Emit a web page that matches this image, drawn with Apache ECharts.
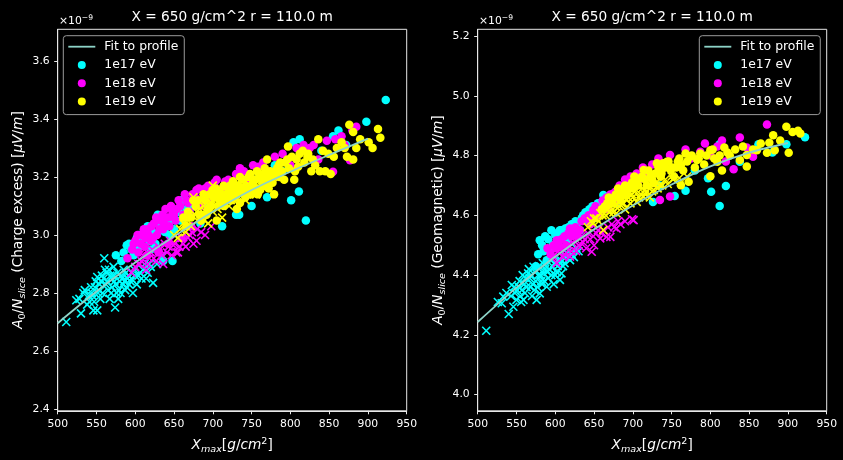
<!DOCTYPE html>
<html>
<head>
<meta charset="utf-8">
<script src="https://cdn.jsdelivr.net/npm/echarts@6/dist/echarts.min.js"></script>
<style>
  html, body { margin: 0; padding: 0; background: #000; }
  #chart { width: 843px; height: 460px; }
</style>
</head>
<body>
<div id="chart"></div>
<script>
// ---- axis ticks ----
const xTicks = [500, 550, 600, 650, 700, 750, 800, 850, 900, 950];
const ceTicks = [2.4, 2.6, 2.8, 3.0, 3.2, 3.4, 3.6];
const geoTicks = [4.0, 4.2, 4.4, 4.6, 4.8, 5.0, 5.2];

const titleText = 'X = 650 g/cm^2 r = 110.0 m';
const energyNames = ['1e17 eV', '1e18 eV', '1e19 eV'];
const fitName = 'Fit to profile';

// ---- fitted profile (values in units of 1e-9 µV/m) ----
const fitXmax = [500, 550, 600, 650, 700, 750, 800, 850, 900];
const ceFit = [2.696, 2.805, 2.905, 2.995, 3.080, 3.155, 3.218, 3.276, 3.332];
const geoFit = [4.243, 4.358, 4.462, 4.553, 4.633, 4.703, 4.764, 4.810, 4.842];

// ---- charge-excess amplitude per slice: [Xmax, A0/Nslice] ----
const ce17 = [[575,2.93],[582,2.91],[585,2.94],[589,2.965],[592,2.97],[595,2.95],[598,2.93],[600,2.95],[602,2.99],[605,3.0],
  [606,2.96],[610,3.0],[612,2.99],[614,3.02],[616,3.03],[618,2.98],[620,2.95],[622,3.01],[624,3.0],[626,2.97],[629,3.07],
  [630,3.04],[633,3.03],[636,2.91],[638,3.01],[640,3.04],[644,3.0],[645,3.05],[648,2.91],[650,3.02],[652,3.05],[656,3.08],
  [658,3.05],[660,3.12],[664,3.06],[666,3.09],[670,3.09],[676,3.1],[684,3.04],[690,3.11],[700,3.14],[712,3.03],[720,3.17],
  [730,3.07],[734,3.07],[750,3.10],[760,3.2],[770,3.13],[780,3.24],[790,3.22],[801,3.12],[804,3.32],[811,3.15],[812,3.33],
  [820,3.05],[840,3.29],[855,3.34],[862,3.36],[872,3.31],[898,3.39],[923,3.465]];
const ce17x = [[511,2.70],[524,2.775],[528,2.78],[530,2.73],[533,2.80],[535,2.81],[538,2.76],[540,2.79],[541,2.77],[543,2.82],
  [544,2.80],[545,2.79],[546,2.74],[547,2.77],[548,2.82],[549,2.84],[551,2.74],[551,2.855],[552,2.80],[553,2.81],[554,2.83],
  [555,2.78],[556,2.84],[557,2.86],[558,2.80],[559,2.85],[560,2.92],[561,2.88],[562,2.83],[563,2.87],[564,2.84],[565,2.81],
  [566,2.88],[567,2.78],[568,2.86],[569,2.80],[570,2.82],[571,2.86],[572,2.89],[573,2.84],[574,2.75],[575,2.83],[576,2.80],
  [577,2.87],[578,2.78],[579,2.81],[580,2.84],[581,2.80],[582,2.86],[583,2.85],[584,2.83],[585,2.88],[586,2.84],[587,2.81],
  [588,2.87],[589,2.82],[590,2.85],[591,2.86],[592,2.83],[594,2.84],[595,2.85],[596,2.87],[597,2.80],[599,2.88],[600,2.86],
  [602,2.83],[604,2.86],[606,2.87],[608,2.85],[610,2.88],[612,2.90],[614,2.85],[616,2.87],[618,2.90],[620,2.89],[623,2.835],
  [628,2.90],[635,2.93]];
const ce18 = [[590,2.92],[596,2.95],[598,2.97],[600,2.98],[603,3.0],[604,2.94],[607,2.97],[608,3.0],[611,3.02],[612,2.96],
  [613,2.99],[615,2.93],[616,3.02],[617,3.0],[620,2.98],[621,3.03],[623,2.99],[624,3.04],[627,3.06],[628,3.0],[630,2.94],
  [631,3.02],[632,3.05],[635,3.07],[636,3.02],[637,3.04],[639,3.09],[640,3.06],[642,2.97],[643,3.06],[644,3.03],[646,3.10],
  [648,3.08],[650,3.07],[652,3.05],[654,3.09],[656,3.12],[658,3.10],[660,2.99],[662,3.07],[664,3.14],[666,3.12],[668,3.11],
  [670,3.08],[672,3.03],[674,3.14],[677,3.13],[679,3.155],[682,3.16],[684,3.10],[688,3.13],[690,3.16],[694,3.17],[696,3.12],
  [699,3.15],[702,3.18],[705,3.19],[708,3.14],[712,3.16],[716,3.184],[720,3.19],[724,3.16],[730,3.21],[735,3.23],[740,3.22],
  [745,3.19],[752,3.24],[759,3.235],[765,3.25],[770,3.21],[780,3.27],[790,3.28],[800,3.24],[808,3.30],[817,3.31],[825,3.30],
  [830,3.31],[836,3.26],[847,3.325],[855,3.218],[858,3.33],[866,3.34],[870,3.31],[877,3.258],[880,3.36],[885,3.373]];
const ce18x = [[595,2.87],[600,2.89],[604,2.90],[606,2.90],[608,2.91],[610,2.93],[612,2.95],[614,2.88],[616,2.90],[618,2.92],
  [620,2.94],[622,2.95],[624,2.92],[627,2.91],[630,2.96],[632,2.95],[634,2.93],[636,2.90],[638,2.97],[641,2.94],[643,2.96],
  [645,2.98],[647,2.93],[649,2.965],[651,2.97],[653,2.94],[655,2.94],[657,2.96],[660,2.99],[662,2.97],[665,2.96],[668,2.99],
  [670,3.0],[673,3.01],[675,2.97],[679,2.98],[680,3.02],[685,3.01],[690,3.0],[698,3.03]];
const ce19 = [[662,3.06],[666,3.03],[668,3.08],[672,3.06],[675,3.12],[678,3.10],[681,3.12],[683,3.07],[685,3.05],[688,3.14],
  [690,3.12],[692,3.07],[694,3.09],[696,3.14],[698,3.10],[700,3.155],[702,3.13],[704,3.16],[705,3.05],[707,3.10],[709,3.15],
  [710,3.12],[712,3.13],[714,3.17],[714,3.10],[716,3.12],[718,3.14],[720,3.15],[722,3.17],[724,3.12],[726,3.185],[727,3.16],
  [728,3.13],[730,3.14],[731,3.09],[733,3.17],[735,3.20],[735,3.11],[737,3.15],[739,3.19],[740,3.16],[742,3.13],[743,3.17],
  [744,3.155],[746,3.20],[748,3.21],[749,3.14],[750,3.17],[752,3.18],[754,3.19],[756,3.16],[757,3.22],[758,3.14],[760,3.21],
  [761,3.155],[763,3.19],[764,3.17],[766,3.21],[767,3.23],[768,3.17],[770,3.26],[771,3.19],[772,3.16],[774,3.22],[775,3.20],
  [777,3.18],[778,3.21],[779,3.14],[781,3.21],[783,3.23],[785,3.24],[786,3.20],[787,3.25],[789,3.22],[792,3.19],[793,3.25],
  [796,3.26],[797,3.305],[798,3.23],[802,3.27],[805,3.19],[806,3.22],[808,3.26],[810,3.235],[812,3.28],[816,3.29],[818,3.25],
  [822,3.27],[823,3.28],[827,3.22],[829,3.26],[832,3.24],[836,3.33],[838,3.22],[842,3.29],[845,3.22],[849,3.28],[852,3.21],
  [856,3.27],[860,3.30],[866,3.32],[870,3.30],[873,3.27],[876,3.38],[881,3.26],[881,3.355],[885,3.30],[890,3.33],[901,3.32],
  [906,3.30],[913,3.365],[916,3.335]];
const ce19x = [[650,3.0],[655,2.99],[658,3.02],[662,3.04],[665,3.01],[668,3.05],[672,3.03],[675,3.13],[677,3.07],[679,3.08],
  [680,3.05],[683,3.09],[684,3.07],[686,3.06],[688,3.10],[689,3.05],[691,3.08],[692,3.11],[694,3.04],[696,3.09],[697,3.11],
  [699,3.12],[700,3.17],[700,3.08],[702,3.10],[703,3.12],[705,3.14],[706,3.09],[708,3.11],[709,3.13],[711,3.15],[712,3.06],
  [714,3.13],[715,3.11],[717,3.12],[718,3.15],[720,3.16],[721,3.10],[723,3.12],[724,3.14],[726,3.15],[727,3.12],[729,3.13],
  [730,3.16],[732,3.18],[734,3.13],[736,3.15],[738,3.17],[740,3.16],[742,3.12],[744,3.14],[746,3.15],[748,3.17],[750,3.18],
  [753,3.16],[756,3.14],[758,3.19],[762,3.17],[770,3.18],[778,3.20]];

// ---- geomagnetic amplitude per slice: [Xmax, A0/Nslice] ----
const geo17 = [[575,4.43],[578,4.47],[580,4.517],[583,4.50],[585,4.48],[587,4.53],[589,4.45],[591,4.52],[593,4.484],[595,4.55],
  [597,4.50],[600,4.534],[602,4.54],[604,4.51],[606,4.55],[608,4.55],[611,4.545],[613,4.556],[616,4.52],[617,4.56],[619,4.539],
  [621,4.57],[623,4.57],[626,4.58],[628,4.573],[632,4.55],[634,4.59],[636,4.60],[639,4.61],[641,4.584],[644,4.62],[646,4.62],
  [648,4.63],[650,4.59],[653,4.60],[655,4.64],[658,4.64],[662,4.668],[668,4.63],[674,4.66],[680,4.64],[690,4.68],[700,4.70],
  [714,4.731],[726,4.645],[735,4.70],[754,4.665],[768,4.682],[780,4.75],[797,4.724],[801,4.679],[812,4.631],[812,4.838],
  [820,4.698],[838,4.779],[862,4.838],[880,4.81],[898,4.838],[922,4.861]];
const geo17x = [[511,4.214],[526,4.31],[531,4.306],[533,4.328],[537,4.34],[540,4.27],[543,4.33],[544,4.367],[546,4.294],
  [547,4.36],[548,4.34],[550,4.317],[551,4.35],[553,4.36],[554,4.38],[555,4.33],[556,4.31],[557,4.35],[558,4.40],[559,4.317],
  [560,4.37],[561,4.34],[562,4.39],[563,4.36],[565,4.406],[566,4.42],[567,4.39],[568,4.36],[569,4.40],[570,4.33],[571,4.37],
  [572,4.428],[573,4.35],[574,4.41],[575,4.38],[576,4.317],[577,4.36],[578,4.40],[579,4.43],[580,4.339],[581,4.40],[582,4.38],
  [583,4.37],[584,4.44],[585,4.406],[586,4.38],[587,4.42],[588,4.43],[589,4.361],[590,4.41],[591,4.39],[592,4.42],[594,4.45],
  [595,4.40],[597,4.428],[598,4.37],[599,4.44],[600,4.40],[602,4.41],[603,4.43],[604,4.45],[606,4.384],[607,4.45],[608,4.406],
  [610,4.43],[612,4.44],[614,4.46],[615,4.473],[617,4.48],[619,4.45],[621,4.47],[624,4.46],[627,4.49],[630,4.48]];
const geo18 = [[590,4.49],[594,4.47],[598,4.50],[600,4.49],[602,4.517],[606,4.495],[608,4.52],[612,4.53],[614,4.50],[617,4.54],
  [619,4.556],[621,4.53],[624,4.54],[626,4.56],[629,4.53],[632,4.551],[634,4.58],[638,4.59],[641,4.59],[643,4.60],[645,4.57],
  [647,4.59],[649,4.618],[652,4.63],[654,4.60],[656,4.60],[658,4.618],[661,4.65],[663,4.64],[666,4.66],[668,4.62],[671,4.67],
  [675,4.673],[678,4.68],[680,4.65],[683,4.70],[686,4.69],[690,4.72],[692,4.709],[692,4.712],[697,4.73],[700,4.70],[705,4.74],
  [708,4.72],[713,4.76],[720,4.735],[725,4.77],[733,4.79],[735,4.651],[740,4.76],[748,4.663],[748,4.802],[760,4.77],[768,4.82],
  [775,4.79],[787,4.813],[793,4.84],[800,4.80],[809,4.83],[815,4.85],[820,4.78],[830,4.754],[838,4.86],[847,4.827],[855,4.796],
  [873,4.904]];
const geo18x = [[597,4.462],[602,4.44],[604,4.48],[606,4.473],[610,4.46],[612,4.47],[615,4.49],[617,4.50],[619,4.462],[621,4.48],
  [623,4.506],[626,4.52],[627,4.48],[630,4.50],[632,4.495],[634,4.53],[636,4.51],[638,4.52],[640,4.49],[642,4.54],[645,4.52],
  [647,4.478],[649,4.53],[650,4.50],[653,4.54],[655,4.55],[658,4.523],[660,4.54],[662,4.55],[666,4.528],[668,4.56],[671,4.528],
  [673,4.57],[676,4.56],[679,4.556],[681,4.58],[684,4.57],[690,4.58],[699,4.587],[701,4.584]];
const geo19 = [[660,4.62],[664,4.63],[667,4.64],[669,4.66],[671,4.64],[674,4.64],[676,4.66],[678,4.67],[681,4.69],[684,4.651],
  [686,4.67],[688,4.685],[690,4.70],[692,4.668],[694,4.69],[697,4.701],[699,4.71],[700,4.69],[702,4.73],[705,4.707],[707,4.70],
  [710,4.724],[712,4.73],[714,4.752],[716,4.72],[718,4.70],[720,4.75],[723,4.735],[725,4.72],[727,4.707],[729,4.74],[731,4.774],
  [733,4.76],[736,4.729],[737,4.74],[739,4.774],[742,4.76],[744,4.779],[746,4.78],[749,4.752],[751,4.76],[753,4.73],[756,4.76],
  [758,4.78],[760,4.79],[762,4.768],[762,4.701],[765,4.75],[768,4.807],[770,4.78],[772,4.712],[774,4.796],[776,4.80],[780,4.76],
  [783,4.785],[785,4.79],[787,4.807],[792,4.77],[795,4.80],[800,4.818],[800,4.731],[803,4.82],[805,4.79],[809,4.779],[812,4.80],
  [815,4.75],[818,4.827],[822,4.81],[825,4.80],[832,4.82],[838,4.785],[842,4.83],[847,4.802],[847,4.763],[855,4.82],[860,4.818],
  [865,4.84],[873,4.809],[876,4.843],[881,4.868],[883,4.818],[890,4.85],[898,4.896],[901,4.809],[906,4.879],[913,4.883],[916,4.874]];
const geo19x = [[642,4.56],[646,4.58],[649,4.573],[650,4.59],[653,4.59],[656,4.58],[658,4.607],[661,4.60],[662,4.551],[665,4.60],
  [666,4.62],[668,4.62],[670,4.61],[671,4.629],[674,4.64],[675,4.61],[678,4.63],[679,4.607],[682,4.63],[684,4.65],[686,4.64],
  [688,4.64],[690,4.62],[692,4.651],[694,4.66],[697,4.64],[699,4.67],[700,4.66],[703,4.68],[705,4.645],[708,4.66],[710,4.67],
  [712,4.69],[714,4.662],[716,4.67],[718,4.68],[720,4.70],[722,4.66],[725,4.68],[727,4.685],[730,4.71],[732,4.69],[735,4.70],
  [738,4.70],[742,4.72],[745,4.705],[750,4.73],[752,4.72],[760,4.725],[770,4.73]];

// ---- styling ----
const COLORS = ['#00ffff', '#ff00ff', '#ffff00'];
const FIT_COLOR = '#8dd3c7';
const FONT = '"DejaVu Sans", sans-serif';
const AXIS_COLOR = '#e8e8e8';
const CROSS = 'path://M0,0L10,10M10,0L0,10';
const LINE_ICON = 'path://M0,0H30V2H0Z';

const chart = echarts.init(document.getElementById('chart'), null, { renderer: 'canvas' });

const grids = [
  { left: 57.7, top: 29.3, width: 349, height: 381.5 },
  { left: 477.7, top: 29.3, width: 349, height: 381.5 }
];

function mathRich(size) {
  const sub = size * 0.7;
  return {
    i: { fontStyle: 'italic', fontSize: size, lineHeight: 18, color: '#fff', fontFamily: FONT },
    n: { fontSize: size, lineHeight: 18, color: '#fff', fontFamily: FONT },
    s: { fontSize: sub, lineHeight: 9, verticalAlign: 'bottom', color: '#fff', fontFamily: FONT },
    si: { fontStyle: 'italic', fontSize: sub, lineHeight: 9, verticalAlign: 'bottom', color: '#fff', fontFamily: FONT },
    sup: { fontSize: sub, lineHeight: 9, verticalAlign: 'top', color: '#fff', fontFamily: FONT }
  };
}

const xName = '{i|X}{si|max}{n|[}{i|g}{n|/}{i|cm}{sup|2}{n|]}';
function yName(kind) {
  return '{i|A}{s|0}{n|/}{i|N}{si|slice}{n| (' + kind + ') [}{i|μV}{n|/}{i|m}{n|]}';
}

function xAxis(idx) {
  return {
    gridIndex: idx, type: 'value', min: xTicks[0], max: xTicks[xTicks.length - 1], interval: 50,
    name: xName, nameLocation: 'middle', nameGap: 26,
    nameTextStyle: { rich: mathRich(13.7) },
    axisLine: { show: true, lineStyle: { color: AXIS_COLOR, width: 1 } },
    axisTick: { show: true, length: 3.5, customValues: xTicks, lineStyle: { color: AXIS_COLOR } },
    axisLabel: { color: '#fff', fontSize: 10.8, fontFamily: FONT, margin: 8,
      customValues: xTicks, formatter: v => String(v) },
    splitLine: { show: false }
  };
}

function yAxis(idx, lo, hi, ticks, kind) {
  return {
    gridIndex: idx, type: 'value', min: lo, max: hi,
    name: yName(kind), nameLocation: 'middle', nameGap: 30, nameRotate: 90,
    nameTextStyle: { rich: mathRich(13.7) },
    axisLine: { show: true, lineStyle: { color: AXIS_COLOR, width: 1 } },
    axisTick: { show: true, length: 3.5, customValues: ticks, lineStyle: { color: AXIS_COLOR } },
    axisLabel: { color: '#fff', fontSize: 10.8, fontFamily: FONT, margin: 8,
      customValues: ticks, formatter: v => Number(v).toFixed(1) },
    splitLine: { show: false }
  };
}

function dots(name, data, color, idx) {
  return {
    type: 'scatter', name: name, xAxisIndex: idx, yAxisIndex: idx, data: data,
    symbol: 'circle', symbolSize: 8.5,
    itemStyle: { color: color, opacity: 1 }
  };
}

function crosses(name, data, color, idx) {
  return {
    type: 'scatter', name: name, xAxisIndex: idx, yAxisIndex: idx, data: data,
    symbol: CROSS, symbolSize: 8,
    itemStyle: { color: color, borderColor: color, borderWidth: 1.6, opacity: 1 }
  };
}

function fitLine(values, idx) {
  return {
    type: 'line', name: fitName, xAxisIndex: idx, yAxisIndex: idx,
    data: fitXmax.map((x, k) => [x, values[k]]),
    smooth: 0.3, symbol: 'none', z: 5,
    lineStyle: { color: FIT_COLOR, width: 1.8 },
    itemStyle: { color: FIT_COLOR }
  };
}

function panelSeries(idx, sets) {
  const out = [];
  for (let e = 0; e < 3; e++) {
    out.push(dots(energyNames[e], sets[e][0], COLORS[e], idx));
    out.push(crosses(energyNames[e] + ' ×', sets[e][1], COLORS[e], idx));
  }
  return out;
}

function legend(left) {
  return {
    orient: 'vertical', left: left, top: 35.7,
    selectedMode: false,
    itemWidth: 27, itemHeight: 8, itemGap: 6.3,
    padding: [5, 6, 7, 5],
    backgroundColor: 'rgba(0,0,0,0.8)',
    borderColor: '#9a9a9a', borderWidth: 1, borderRadius: 3,
    formatter: '{t|{name}}',
    textStyle: { color: '#fff', rich: { t: { fontSize: 12.4, lineHeight: 14, color: '#fff', fontFamily: FONT, padding: [0, 0, 0, 4] } } },
    data: [
      { name: fitName, icon: LINE_ICON, itemStyle: { color: FIT_COLOR } },
      { name: energyNames[0], icon: 'circle' },
      { name: energyNames[1], icon: 'circle' },
      { name: energyNames[2], icon: 'circle' }
    ]
  };
}

function offsetText(x) {
  return {
    type: 'text', x: x, y: 21,
    style: {
      text: '{a|×10}{b|−9}',
      verticalAlign: 'middle',
      rich: {
        a: { fontSize: 10.8, lineHeight: 14, fill: '#fff', fontFamily: FONT },
        b: { fontSize: 7.6, lineHeight: 8, verticalAlign: 'top', fill: '#fff', fontFamily: FONT }
      },
      fill: '#fff'
    }
  };
}

function titleEl(cx) {
  return {
    type: 'text', x: cx, y: 17.5,
    style: { text: titleText, fill: '#fff', font: '13.7px ' + FONT, align: 'center', verticalAlign: 'middle' }
  };
}

const option = {
  backgroundColor: '#000',
  animation: false,
  textStyle: { fontFamily: FONT },
  grid: grids.map(g => Object.assign({
    show: true, borderColor: AXIS_COLOR, borderWidth: 1, backgroundColor: '#000', containLabel: false
  }, g)),
  xAxis: [xAxis(0), xAxis(1)],
  yAxis: [
    yAxis(0, 2.394, 3.709, ceTicks, 'Charge excess'),
    yAxis(1, 3.946, 5.2224, geoTicks, 'Geomagnetic')
  ],
  legend: [legend(63.3), legend(699.3)],
  series: [
    ...panelSeries(0, [[ce17, ce17x], [ce18, ce18x], [ce19, ce19x]]),
    fitLine(ceFit, 0),
    ...panelSeries(1, [[geo17, geo17x], [geo18, geo18x], [geo19, geo19x]]),
    fitLine(geoFit, 1)
  ],
  graphic: [
    titleEl(232.2),
    titleEl(652.2),
    offsetText(59),
    offsetText(479)
  ]
};

chart.setOption(option);
</script>
</body>
</html>
